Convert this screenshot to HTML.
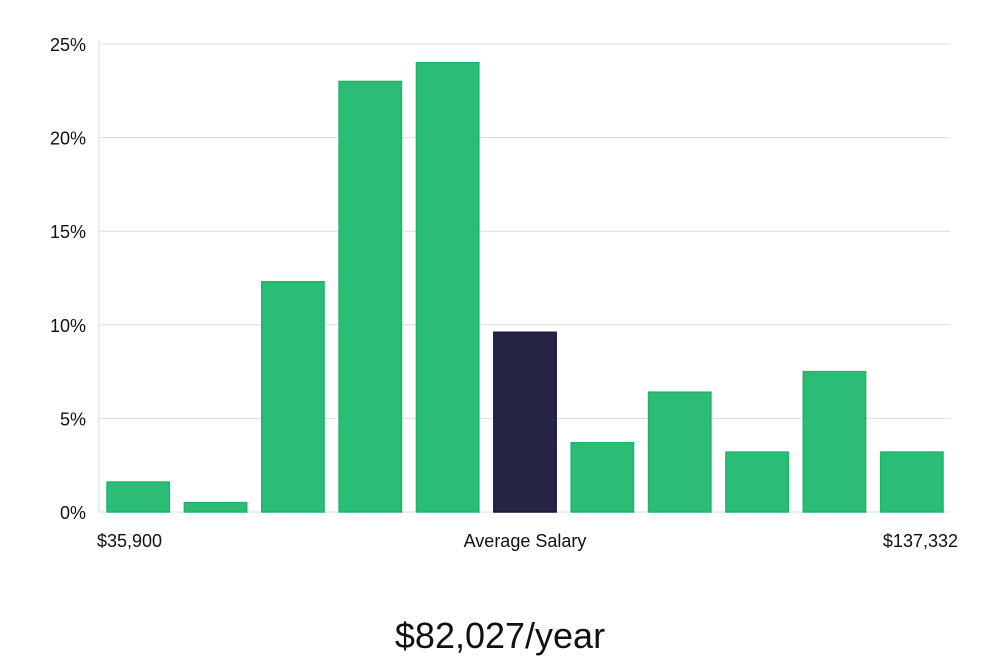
<!DOCTYPE html>
<html><head><meta charset="utf-8"><style>
body{margin:0;background:#fff;width:1000px;height:660px;overflow:hidden;font-family:"Liberation Sans","DejaVu Sans",sans-serif}
</style></head><body>
<svg width="1000" height="660" id="chart">
<text x="500" y="648" text-anchor="middle" font-size="36" fill="#111">$82,027/year</text>
</svg>
<script>
const categories=["b1","b2","b3","b4","b5","avg","b7","b8","b9","b10","b11"];
const values=[1.6,0.5,12.3,23.0,24.0,9.6,3.7,6.4,3.2,7.5,3.2];
const highlight=[false,false,false,false,false,true,false,false,false,false,false];
const yTicks=[0,5,10,15,20,25];
const yTickLabels=["0%","5%","10%","15%","20%","25%"];
const ns="http://www.w3.org/2000/svg";
const svg=document.getElementById('chart');
const x0=99,x1=950,y0=512,y1=44,ymax=25;
const y=v=>y0-(v/ymax)*(y0-y1);
const slot=(x1-x0)/categories.length;
const x=i=>x0+i*slot;
function el(t,a){const e=document.createElementNS(ns,t);for(const k in a)e.setAttribute(k,a[k]);svg.appendChild(e);return e;}
yTicks.forEach((t,i)=>{
 const g=el('line',{x1:x0,x2:x1,y1:y(t),y2:y(t),stroke:'#dddddd','stroke-width':1});
 
 
 const tx=el('text',{x:86,y:y(t)+7,'text-anchor':'end','font-size':18,fill:'#111'});
 tx.textContent=yTickLabels[i];
 
 
});
const ax=el('line',{x1:x0,x2:x0,y1:40,y2:y0,stroke:'#dddddd','stroke-width':1});


values.forEach((v,i)=>{
 const r=el('rect',{x:x(i)+8,y:y(v),width:slot-15,height:y0-y(v),fill:highlight[i]?'#272546':'#2bbd76',stroke:highlight[i]?'#1c1a3a':'#1fb36b','stroke-width':1.5});
 
 
});
const xl=[["$35,900",97,"start"],["Average Salary",525,"middle"],["$137,332",958,"end"]];
xl.forEach(l=>{
 const t=el('text',{x:l[1],y:547,'text-anchor':l[2],'font-size':18,fill:'#111'});
 t.textContent=l[0];
 
 
});
</script>
</body></html>
